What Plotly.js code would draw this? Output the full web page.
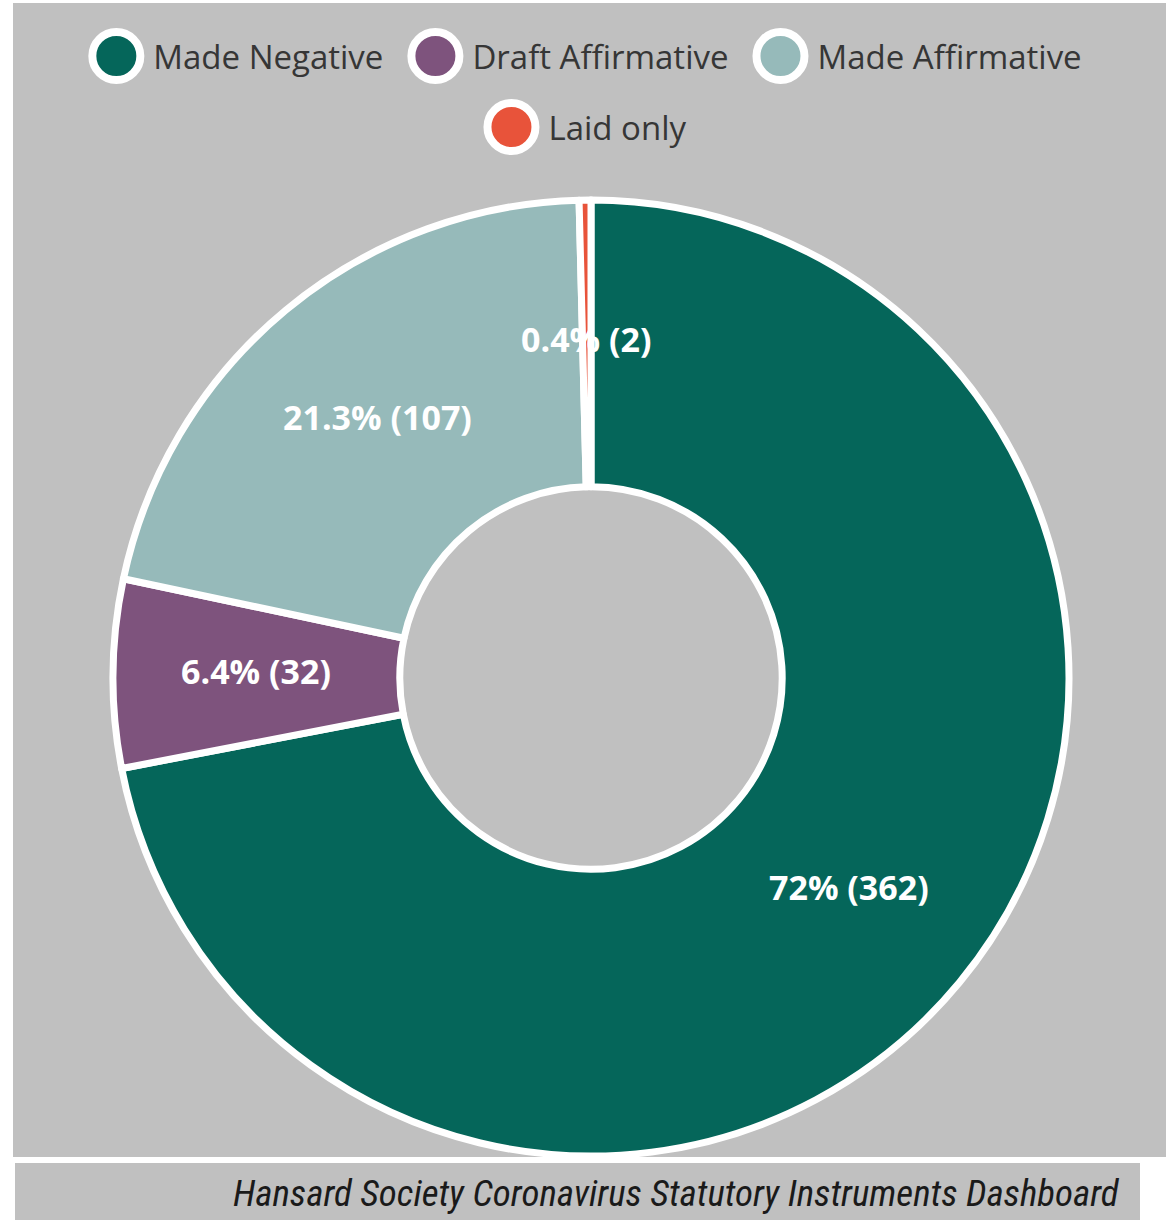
<!DOCTYPE html>
<html>
<head>
<meta charset="utf-8">
<script src="https://cdn.plot.ly/plotly-3.0.1.min.js"></script>
<style>
  html, body { margin: 0; padding: 0; background: #ffffff; }
  #chart { width: 1166px; height: 1221px; }
</style>
</head>
<body>
<div id="chart"></div>
<script>
// ---- data ----
const categories = ["Made Negative", "Draft Affirmative", "Made Affirmative", "Laid only"];
const counts = [362, 32, 107, 2];
const colors = ["#05665a", "#7e537d", "#96baba", "#e8533a"];
const footerText = "Hansard Society Coronavirus Statutory Instruments Dashboard";

const W = 1166, H = 1221;
const M = { l: 113, r: 97, t: 200, b: 65 };
const pw = W - M.l - M.r, ph = H - M.t - M.b;
const px = v => (v - M.l) / pw;          // pixel x -> paper x
const py = v => (H - M.b - v) / ph;      // pixel y -> paper y
const HOLE = 0.4;

const trace = {
  type: "pie",
  labels: categories,
  values: counts,
  marker: { colors: colors, line: { color: "#ffffff", width: 7 } },
  hole: HOLE,
  sort: false,
  direction: "clockwise",
  rotation: 0,
  textinfo: "none",
  hoverinfo: "label+value+percent",
  showlegend: true
};

// data labels at the middle of the ring, derived from the values
const total = counts.reduce((a, b) => a + b, 0);
const R = Math.min(pw, ph) / 2;
const cxp = M.l + pw / 2, cyp = M.t + ph / 2;
const rMid = R * (1 + HOLE) / 2;
const labelAnns = [];
let cum = 0;
counts.forEach((v, i) => {
  const a0 = cum / total * 2 * Math.PI;
  cum += v;
  const a1 = cum / total * 2 * Math.PI;
  const mid = (a0 + a1) / 2;
  const x = cxp + rMid * Math.sin(mid);
  const y = cyp - rMid * Math.cos(mid) - 4;
  const pct = (v / total * 100).toFixed(1).replace(/\.0$/, "");
  labelAnns.push({
    xref: "paper", yref: "paper", x: px(x), y: py(y),
    xanchor: "center", yanchor: "middle", showarrow: false,
    text: pct + "% (" + v + ")",
    font: { family: "Open Sans, sans-serif", size: 34, color: "#ffffff", weight: 700 }
  });
});

const layout = {
  width: W, height: H,
  margin: M,
  paper_bgcolor: "rgba(0,0,0,0)",
  plot_bgcolor: "rgba(0,0,0,0)",
  showlegend: true,
  legend: {
    orientation: "h",
    x: px(585), xanchor: "center",
    y: py(22), yanchor: "top",
    bgcolor: "rgba(0,0,0,0)",
    font: { family: "Open Sans, sans-serif", size: 33, color: "#363636" },
    itemwidth: 30,
    traceorder: "normal"
  },
  shapes: [
    { type: "rect", xref: "paper", yref: "paper", layer: "below",
      x0: px(13), x1: px(1166), y0: py(1157), y1: py(3),
      fillcolor: "#c0c0c0", line: { width: 0 } },
    { type: "rect", xref: "paper", yref: "paper", layer: "below",
      x0: px(15), x1: px(1140), y0: py(1220), y1: py(1163),
      fillcolor: "#c0c0c0", line: { width: 0 } }
  ],
  annotations: labelAnns.concat([
    { xref: "paper", yref: "paper", x: px(1122), y: py(1193),
      xanchor: "right", yanchor: "middle", showarrow: false,
      text: "<i>" + footerText + "</i>",
      font: { family: "Liberation Sans Narrow, Roboto Condensed, sans-serif", size: 37, color: "#1a1a1a" } }
  ])
};

Plotly.newPlot("chart", [trace], layout, { displayModeBar: false, staticPlot: true }).then(gd => {
  // lay the legend out as in the reference: big white-ringed circles, centred rows
  gd.querySelectorAll(".legend [clip-path]").forEach(el => el.removeAttribute("clip-path"));
  const items = Array.from(gd.querySelectorAll(".legend g.traces"));
  const rows = [[0, 1, 2], [3]];
  const rowY = [56, 127];
  const rOuter = 28, textOff = 37, gap = 24, centreX = 585;
  rows.forEach((row, ri) => {
    const widths = row.map(i => items[i].querySelector("text.legendtext").getBoundingClientRect().width);
    const totalW = widths.reduce((a, w) => a + rOuter + textOff + w, 0) + gap * (row.length - 1);
    let left = centreX - totalW / 2;
    row.forEach((i, k) => {
      const g = items[i];
      const text = g.querySelector("text.legendtext");
      const tb = text.getBoundingClientRect();
      const targetLeft = left + rOuter + textOff;
      const dx = targetLeft - tb.left;
      const dy = rowY[ri] - (tb.top + tb.bottom) / 2;
      const m = /translate\(\s*([-\d.e]+)[ ,]+([-\d.e]+)\s*\)/.exec(g.getAttribute("transform") || "");
      const ox = m ? parseFloat(m[1]) : 0, oy = m ? parseFloat(m[2]) : 0;
      g.setAttribute("transform", `translate(${ox + dx},${oy + dy})`);
      // circle symbol
      const lp = g.querySelector("g.legendpoints");
      const path = g.querySelector("path.legendpie");
      if (lp && path) {
        const lpM = lp.getCTM();
        const cxS = targetLeft - textOff, cyS = rowY[ri];
        const cx = (cxS - lpM.e) / lpM.a, cy = (cyS - lpM.f) / lpM.d;
        const r = 24;
        path.setAttribute("transform", "");
        path.setAttribute("d", `M${cx + r},${cy}A${r},${r} 0 1 1 ${cx - r},${cy}A${r},${r} 0 1 1 ${cx + r},${cy}Z`);
        path.style.fill = colors[i];
        path.style.stroke = "#ffffff";
        path.style.strokeWidth = "8px";
      }
      left += rOuter + textOff + widths[k] + gap;
    });
  });
});
</script>
</body>
</html>
